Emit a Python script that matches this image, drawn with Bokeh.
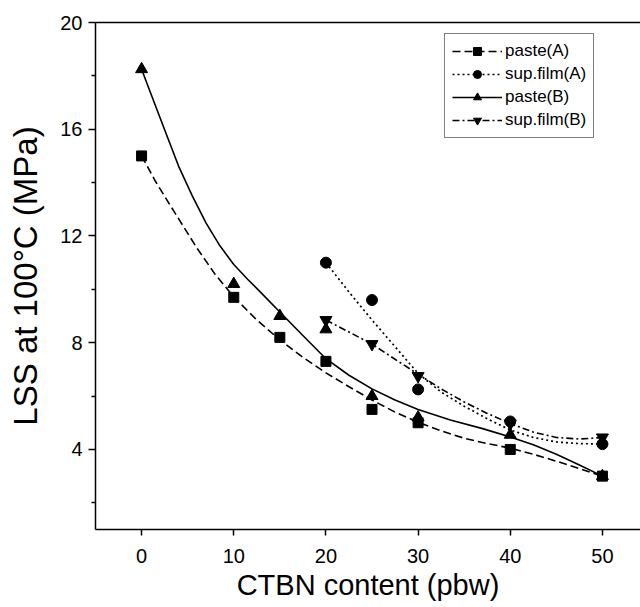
from bokeh.plotting import figure
from bokeh.models import Range1d, FixedTicker, LinearAxis, Legend, LegendItem
from bokeh.embed import file_html
from bokeh.resources import INLINE

# ---- measured data points ----
x_paste_a = [0, 10, 15, 20, 25, 30, 40, 50]
y_paste_a = [15.0, 9.7, 8.2, 7.3, 5.5, 5.0, 4.0, 3.0]

x_sup_a = [20, 25, 30, 40, 50]
y_sup_a = [11.0, 9.6, 6.25, 5.05, 4.2]

x_paste_b = [0, 10, 15, 20, 25, 30, 40, 50]
y_paste_b = [18.25, 10.2, 9.0, 8.5, 6.0, 5.2, 4.55, 3.0]

x_sup_b = [20, 25, 30, 40, 50]
y_sup_b = [8.85, 7.95, 6.75, 4.97, 4.45]

# ---- smooth curves ----
curve_paste_a_x = [0, 1.5, 3.5, 6, 8, 10, 12.5, 15, 17.5, 20, 22.5, 25, 27.5, 30, 32.5, 35, 37.5, 40, 42.5, 45, 47.5, 50]
curve_paste_a_y = [15.0, 14.05, 12.93, 11.55, 10.55, 9.72, 8.85, 8.11, 7.45, 6.87, 6.35, 5.85, 5.4, 5.02, 4.7, 4.42, 4.22, 4.05, 3.82, 3.56, 3.28, 3.0]

curve_paste_b_x = [0, 1, 2.5, 4, 5.5, 7, 8.5, 10, 11.5, 13, 15, 17.5, 20, 22.5, 25, 27.5, 30, 33.5, 37, 40, 42.5, 45, 47.5, 50]
curve_paste_b_y = [18.25, 17.34, 15.98, 14.63, 13.5, 12.48, 11.63, 10.93, 10.38, 9.86, 9.15, 8.27, 7.4, 6.78, 6.27, 5.85, 5.5, 5.1, 4.78, 4.47, 4.18, 3.82, 3.42, 3.0]

curve_sup_a_x = [20, 22.5, 25, 27.5, 30, 32.5, 35, 37.5, 40, 42.5, 45, 47.5, 50]
curve_sup_a_y = [11.0, 9.9, 8.85, 7.85, 6.85, 6.15, 5.62, 5.15, 4.73, 4.45, 4.28, 4.22, 4.2]

curve_sup_b_x = [20, 22.5, 25, 27.5, 30, 32.5, 35, 37.5, 40, 42.5, 45, 47.5, 50]
curve_sup_b_y = [8.85, 8.4, 7.95, 7.38, 6.82, 6.27, 5.78, 5.35, 4.97, 4.65, 4.45, 4.39, 4.45]

x_ticks = [0, 10, 20, 30, 40, 50]
y_ticks = [4, 8, 12, 16, 20]
y_minor = [2, 6, 10, 14, 18]

labels = ["paste(A)", "sup.film(A)", "paste(B)", "sup.film(B)"]

FONT = "Liberation Sans"

p = figure(width=640, height=607,
           x_range=Range1d(-5, 54.13), y_range=Range1d(1, 20),
           output_backend="svg", toolbar_location=None,
           min_border_left=95, min_border_right=0,
           min_border_top=22, min_border_bottom=78)
p.xgrid.visible = False
p.ygrid.visible = False
p.outline_line_color = None
p.background_fill_color = "white"
p.border_fill_color = "white"

xa = p.below[0]
ya = p.left[0]

# top spine
top = LinearAxis(ticker=FixedTicker(ticks=[]), major_label_text_font_size="0px",
                 major_tick_line_color=None, minor_tick_line_color=None,
                 axis_line_width=1.5, axis_line_color="black", major_label_standoff=0)
p.add_layout(top, "above")

# axes styling
xa.ticker = FixedTicker(ticks=x_ticks)
xa.axis_label = "CTBN content (pbw)"
ya.ticker = FixedTicker(ticks=y_ticks, minor_ticks=y_minor)
ya.axis_label = "LSS at 100°C (MPa)"

for ax in (xa, ya):
    ax.axis_line_width = 1.5
    ax.axis_line_color = "black"
    ax.major_tick_line_width = 1.5
    ax.major_tick_line_color = "black"
    ax.minor_tick_line_width = 1.5
    ax.minor_tick_line_color = "black"
    ax.major_tick_in = 0
    ax.minor_tick_in = 0
    ax.major_label_text_font = FONT
    ax.major_label_text_font_size = "20px"
    ax.major_label_text_color = "black"
    ax.axis_label_text_font = FONT
    ax.axis_label_text_font_style = "normal"
    ax.axis_label_text_color = "black"

xa.major_tick_out = 6
xa.minor_tick_line_color = None
xa.major_label_standoff = 13
xa.axis_label_text_font_size = "29px"
xa.axis_label_standoff = 3

ya.major_tick_out = 7
ya.minor_tick_out = 4
ya.major_label_standoff = 6
ya.axis_label_text_font_size = "33px"
ya.axis_label_standoff = 13

# curves
l_pa = p.line(curve_paste_a_x, curve_paste_a_y, line_color="black", line_width=1.6, line_dash="8 4")
l_sa = p.line(curve_sup_a_x, curve_sup_a_y, line_color="black", line_width=1.7, line_dash="2 3")
l_pb = p.line(curve_paste_b_x, curve_paste_b_y, line_color="black", line_width=1.6)
l_sb = p.line(curve_sup_b_x, curve_sup_b_y, line_color="black", line_width=1.6, line_dash="7 3 2 3")

# markers
m_pa = p.scatter(x_paste_a, y_paste_a, marker="square", size=10, color="black")
m_sa = p.scatter(x_sup_a, y_sup_a, marker="circle", size=11, color="black")
m_pb = p.scatter(x_paste_b, y_paste_b, marker="triangle", size=12, color="black")
m_sb = p.scatter(x_sup_b, y_sup_b, marker="inverted_triangle", size=12, color="black")

items = [
    LegendItem(label=labels[0], renderers=[l_pa, m_pa]),
    LegendItem(label=labels[1], renderers=[l_sa, m_sa]),
    LegendItem(label=labels[2], renderers=[l_pb, m_pb]),
    LegendItem(label=labels[3], renderers=[l_sb, m_sb]),
]
legend = Legend(items=items, location=(349, 391),
                label_text_font=FONT, label_text_font_size="17px",
                label_text_color="black",
                glyph_width=50, glyph_height=20, label_height=20,
                label_standoff=3, spacing=3, padding=7, margin=0,
                border_line_color="black", border_line_width=1,
                background_fill_color="white", background_fill_alpha=1)
p.add_layout(legend, "center")

open("out.html", "w").write(file_html(p, INLINE))
